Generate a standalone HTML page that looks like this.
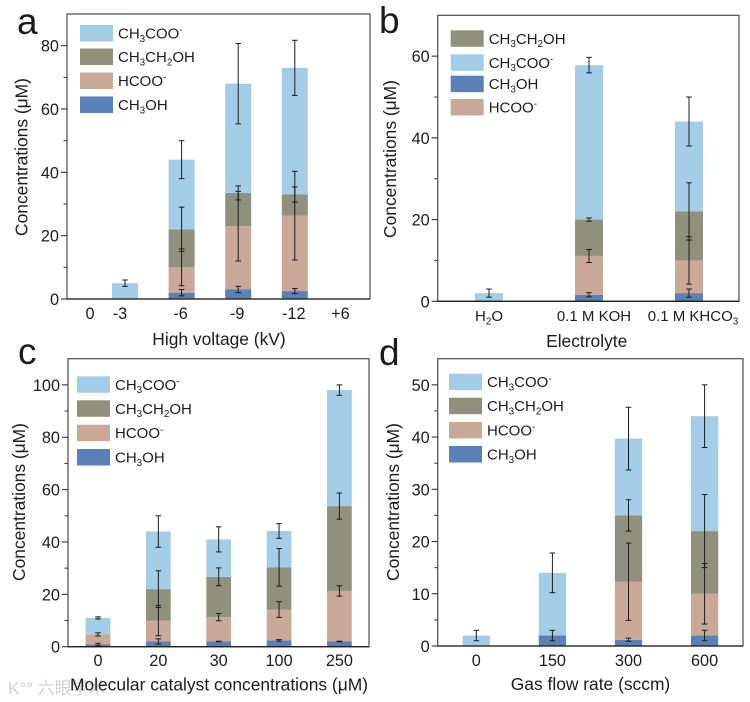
<!DOCTYPE html>
<html lang="en">
<head>
<meta charset="utf-8">
<title>Concentrations of liquid products</title>
<style>
html,body{margin:0;padding:0;background:#fff;}
svg{display:block;font-family:"Liberation Sans","Noto Sans CJK SC",sans-serif;fill:#1c1c1c;filter:blur(0.3px);}
</style>
</head>
<body>
<svg id="figure" xmlns="http://www.w3.org/2000/svg" width="750" height="702" viewBox="0 0 750 702"></svg>
<script>
// Panel a
const aCategories = ['0', '-3', '-6', '-9', '-12', '+6'];
const aYTicks = [0, 20, 40, 60, 80];
const aMethanol = [0, 0, 2, 3, 2.5, 0];
const aFormate = [0, 0, 8, 20, 23.8, 0];
const aEthanol = [0, 0, 12, 10.5, 6.7, 0];
const aAcetate = [0, 5, 22, 34.5, 40, 0];
const aMethanolErr = [0, 0, 1, 1, 0.8, 0];
const aFormateErr = [0, 0, 5.8, 11, 14, 0];
const aEthanolErr = [0, 0, 7, 2.2, 2.4, 0];
const aAcetateErr = [0, 1, 6, 12.7, 8.7, 0];

// Panel b
const bCategories = ['H_2O', '0.1 M KOH', '0.1 M KHCO_3'];
const bYTicks = [0, 20, 40, 60];
const bMethanol = [0, 1.6, 2];
const bFormate = [0, 9.5, 8];
const bEthanol = [0, 8.9, 12];
const bAcetate = [2, 37.8, 22];
const bMethanolErr = [0, 0.5, 1];
const bFormateErr = [0, 1.6, 5.8];
const bEthanolErr = [0, 0.4, 7];
const bAcetateErr = [1, 1.9, 6];

// Panel c
const cCategories = ['0', '20', '30', '100', '250'];
const cYTicks = [0, 20, 40, 60, 80, 100];
const cMethanol = [0.9, 2, 2, 2.4, 2];
const cFormate = [3.8, 8, 9.3, 11.8, 19.3];
const cEthanol = [0, 12, 15.4, 16.1, 32.4];
const cAcetate = [6.3, 22, 14.3, 13.9, 44.3];
const cMethanolErr = [0.4, 1, 0.1, 0.3, 0.1];
const cFormateErr = [0.6, 5.8, 1.4, 3, 2];
const cEthanolErr = [0, 7, 3.4, 7.2, 5];
const cAcetateErr = [0.4, 6, 4.8, 2.8, 2];

// Panel d
const dCategories = ['0', '150', '300', '600'];
const dYTicks = [0, 10, 20, 30, 40, 50];
const dMethanol = [0, 2, 1.2, 2];
const dFormate = [0, 0, 11.1, 8];
const dEthanol = [0, 0, 12.7, 12];
const dAcetate = [2, 12, 14.7, 22];
const dMethanolErr = [0, 1, 0.3, 1];
const dFormateErr = [0, 0, 7.4, 5.8];
const dEthanolErr = [0, 0, 3, 7];
const dAcetateErr = [1, 3.8, 6, 6];

const colorBySpecies = {methanol: '#5b80b7', formate: '#c9a898', ethanol: '#90907e', acetate: '#a3cde6'};
const labelBySpecies = {methanol: 'CH_3OH', formate: 'HCOO^-', ethanol: 'CH_3CH_2OH', acetate: 'CH_3COO^-'};

const NS = 'http://www.w3.org/2000/svg';
const figure = document.getElementById('figure');

function make(tag, attrs, parent) {
  const el = document.createElementNS(NS, tag);
  for (const k in attrs) el.setAttribute(k, attrs[k]);
  parent.appendChild(el);
  return el;
}

// Renders "_3" as a subscript and "^-" as a superscript.
function richText(textEl, str, size) {
  const parts = str.split(/([_^].)/).filter(Boolean);
  let shift = 0;
  parts.forEach(function (p) {
    const ts = document.createElementNS(NS, 'tspan');
    let target = 0;
    if (p[0] === '_') { target = size * 0.22; ts.setAttribute('font-size', size * 0.66); ts.textContent = p[1]; }
    else if (p[0] === '^') { target = -size * 0.36; ts.setAttribute('font-size', size * 0.66); ts.textContent = p[1]; }
    else { ts.textContent = p; }
    ts.setAttribute('dy', target - shift);
    shift = target;
    textEl.appendChild(ts);
  });
}

function drawPanel(p) {
  const g = make('g', {}, figure);
  
  

  const yMax = p.yMax;
  const yScale = function (v) { return p.bottom - (v / yMax) * (p.bottom - p.top); };
  const xScale = function (i) { return p.x0 + i * p.step; };

  // stacked bars
  p.categories.forEach(function (cat, i) {
    let base = 0;
    const errs = [];
    p.stack.forEach(function (s) {
      const v = s.values[i];
      if (v > 0) {
        const r = make('rect', {
          x: xScale(i) - p.barW / 2,
          y: yScale(base + v),
          width: p.barW,
          height: yScale(base) - yScale(base + v),
          fill: colorBySpecies[s.key]
        }, g);
        
        
      }
      base += v;
      if (s.errs[i] > 0) errs.push({key: s.key, top: base, err: s.errs[i]});
    });
    errs.forEach(function (e) {
      const eg = make('g', {stroke: '#1c1c1c', 'stroke-width': 1, fill: 'none'}, g);
      
      
      const cx = xScale(i);
      const hi = yScale(e.top + e.err);
      const lo = yScale(e.top - e.err);
      make('line', {x1: cx, x2: cx, y1: hi, y2: lo}, eg);
      make('line', {x1: cx - 2.8, x2: cx + 2.8, y1: hi, y2: hi}, eg);
      make('line', {x1: cx - 2.8, x2: cx + 2.8, y1: lo, y2: lo}, eg);
    });
  });

  // frame
  const frame = make('rect', {
    x: p.left, y: p.top, width: p.right - p.left, height: p.bottom - p.top,
    fill: 'none', stroke: '#4a4a4a', 'stroke-width': 1.2
  }, g);
  
  
  const baseLine = make('line', {x1: p.left, x2: p.right, y1: p.bottom, y2: p.bottom, stroke: '#222', 'stroke-width': 1.3}, g);
  
  

  // y ticks
  const tickStep = p.yTicks[1] - p.yTicks[0];
  p.yTicks.forEach(function (t) {
    const y = yScale(t);
    const mark = make('line', {x1: p.left - 6, x2: p.left, y1: y, y2: y, stroke: '#333', 'stroke-width': 1.1}, g);
    
    
    const minorValue = t + tickStep / 2;
    if (minorValue < yMax) {
      const ym = yScale(minorValue);
      const minor = make('line', {x1: p.left - 3.5, x2: p.left, y1: ym, y2: ym, stroke: '#333', 'stroke-width': 1}, g);
      
      
    }
    const label = make('text', {x: p.left - 8, y: y + 6, 'text-anchor': 'end', 'font-size': 16.3}, g);
    label.textContent = String(t);
    
    
  });

  // x labels
  p.categories.forEach(function (cat, i) {
    const label = make('text', {x: xScale(i) + p.labelDx[i], y: p.tickBase, 'text-anchor': 'middle', 'font-size': p.tickSize}, g);
    richText(label, cat, p.tickSize);
    
    
  });

  // titles
  const xt = make('text', {x: p.xTitleX, y: p.xTitleY, 'text-anchor': 'middle', 'font-size': p.xTitleSize}, g);
  xt.textContent = p.xTitle;
  
  
  const yt = make('text', {
    x: 0, y: 0, 'text-anchor': 'middle', 'font-size': 17.4,
    transform: 'translate(' + p.yTitleX + ' ' + p.yTitleY + ') rotate(-90)'
  }, g);
  yt.textContent = 'Concentrations (μM)';
  
  

  // panel letter
  const letter = make('text', {x: p.letterX, y: p.letterY, 'font-size': 37}, g);
  letter.textContent = p.id;
  
  

  // legend
  p.legendOrder.forEach(function (key, i) {
    const lg = make('g', {}, g);
    
    
    make('rect', {x: p.legendX, y: p.legendY[i], width: 33, height: 16.5, fill: colorBySpecies[key]}, lg);
    const t = make('text', {x: p.legendX + 38, y: p.legendY[i] + 13.5, 'font-size': 15}, lg);
    richText(t, labelBySpecies[key], 15);
  });
}

// watermark sits under the chart text
const watermark = make('text', {x: 8, y: 694, 'font-size': 17, fill: '#d2d2d2'}, figure);
watermark.textContent = 'K°° 六眼学术';



drawPanel({
  id: 'a', left: 67, right: 370, top: 14, bottom: 299, yMax: 90, yTicks: aYTicks,
  x0: 68.4, step: 56.6, barW: 26, categories: aCategories,
  labelDx: [21.6, -5, -1, -1, -1, -11], tickBase: 319, tickSize: 16.3,
  xTitle: 'High voltage (kV)', xTitleX: 219, xTitleY: 345, xTitleSize: 17.4,
  yTitleX: 27.5, yTitleY: 157, letterX: 17, letterY: 34,
  legendX: 80, legendY: [25, 48.5, 72.5, 96.5],
  legendOrder: ['acetate', 'ethanol', 'formate', 'methanol'],
  stack: [
    {key: 'methanol', values: aMethanol, errs: aMethanolErr},
    {key: 'formate', values: aFormate, errs: aFormateErr},
    {key: 'ethanol', values: aEthanol, errs: aEthanolErr},
    {key: 'acetate', values: aAcetate, errs: aAcetateErr}
  ]
});

drawPanel({
  id: 'b', left: 437.7, right: 739, top: 15.3, bottom: 301.3, yMax: 70, yTicks: bYTicks,
  x0: 489, step: 100, barW: 28, categories: bCategories,
  labelDx: [0, 5, 4], tickBase: 321, tickSize: 15,
  xTitle: 'Electrolyte', xTitleX: 586.7, xTitleY: 347, xTitleSize: 17.4,
  yTitleX: 396, yTitleY: 159, letterX: 379, letterY: 33,
  legendX: 450.7, legendY: [30.3, 54.3, 75.7, 99],
  legendOrder: ['ethanol', 'acetate', 'methanol', 'formate'],
  stack: [
    {key: 'methanol', values: bMethanol, errs: bMethanolErr},
    {key: 'formate', values: bFormate, errs: bFormateErr},
    {key: 'ethanol', values: bEthanol, errs: bEthanolErr},
    {key: 'acetate', values: bAcetate, errs: bAcetateErr}
  ]
});

drawPanel({
  id: 'c', left: 68, right: 369, top: 358.7, bottom: 646.7, yMax: 110, yTicks: cYTicks,
  x0: 98, step: 60.35, barW: 24.7, categories: cCategories,
  labelDx: [0, 0, 0, 0, 0], tickBase: 666, tickSize: 16.3,
  xTitle: 'Molecular catalyst concentrations (μM)', xTitleX: 219, xTitleY: 690.5, xTitleSize: 17.4,
  yTitleX: 25, yTitleY: 502, letterX: 18, letterY: 364,
  legendX: 77, legendY: [376.3, 400.3, 424.7, 449],
  legendOrder: ['acetate', 'ethanol', 'formate', 'methanol'],
  stack: [
    {key: 'methanol', values: cMethanol, errs: cMethanolErr},
    {key: 'formate', values: cFormate, errs: cFormateErr},
    {key: 'ethanol', values: cEthanol, errs: cEthanolErr},
    {key: 'acetate', values: cAcetate, errs: cAcetateErr}
  ]
});

drawPanel({
  id: 'd', left: 437.7, right: 743, top: 358.7, bottom: 646, yMax: 55, yTicks: dYTicks,
  x0: 476.3, step: 76.1, barW: 27.3, categories: dCategories,
  labelDx: [0, 0, 0, 0], tickBase: 666, tickSize: 16.3,
  xTitle: 'Gas flow rate (sccm)', xTitleX: 590.5, xTitleY: 690, xTitleSize: 17.4,
  yTitleX: 399, yTitleY: 502, letterX: 379, letterY: 365,
  legendX: 449, legendY: [373.7, 397.7, 422, 446],
  legendOrder: ['acetate', 'ethanol', 'formate', 'methanol'],
  stack: [
    {key: 'methanol', values: dMethanol, errs: dMethanolErr},
    {key: 'formate', values: dFormate, errs: dFormateErr},
    {key: 'ethanol', values: dEthanol, errs: dEthanolErr},
    {key: 'acetate', values: dAcetate, errs: dAcetateErr}
  ]
});
</script>
</body>
</html>
